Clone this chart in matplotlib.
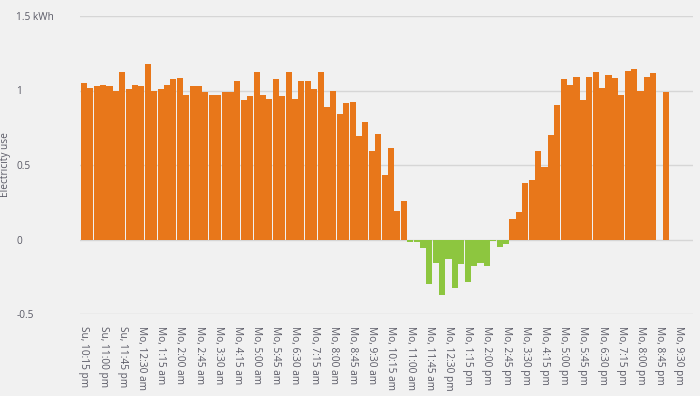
import numpy as np
import matplotlib
matplotlib.use('agg')
import matplotlib.pyplot as plt

# 15-minute electricity use (kWh), Su 10:15 pm .. Mo 9:00 pm
usage = [1.053, 1.02, 1.027, 1.04, 1.033, 1.0, 1.127, 1.007, 1.04, 1.033,
         1.18, 1.0, 1.013, 1.04, 1.08, 1.087, 0.973, 1.027, 1.027, 0.987,
         0.973, 0.973, 0.993, 0.987, 1.067, 0.933, 0.96,
         1.127, 0.967, 0.94, 1.08, 0.96, 1.127, 0.94, 1.067, 1.067,
         1.007, 1.127, 0.887, 1.0, 0.84, 0.913, 0.92, 0.693, 0.787, 0.593,
         0.707, 0.433, 0.613, 0.193, 0.26,
         -0.02, -0.02, -0.06, -0.30, -0.16, -0.373, -0.133, -0.327, -0.167,
         -0.287, -0.18, -0.16, -0.18, -0.007, -0.053, -0.033,
         0.14, 0.187, 0.38, 0.40, 0.593, 0.487, 0.70, 0.90, 1.08,
         1.04, 1.093, 0.933, 1.093, 1.127, 1.02, 1.107, 1.087, 0.967, 1.133,
         1.147, 1.0, 1.093, 1.12, np.nan, 0.987]

tick_labels = ['Su, 10:15 pm', 'Su, 11:00 pm', 'Su, 11:45 pm', 'Mo, 12:30 am',
               'Mo, 1:15 am', 'Mo, 2:00 am', 'Mo, 2:45 am', 'Mo, 3:30 am',
               'Mo, 4:15 am', 'Mo, 5:00 am', 'Mo, 5:45 am', 'Mo, 6:30 am',
               'Mo, 7:15 am', 'Mo, 8:00 am', 'Mo, 8:45 am', 'Mo, 9:30 am',
               'Mo, 10:15 am', 'Mo, 11:00 am', 'Mo, 11:45 am', 'Mo, 12:30 pm',
               'Mo, 1:15 pm', 'Mo, 2:00 pm', 'Mo, 2:45 pm', 'Mo, 3:30 pm',
               'Mo, 4:15 pm', 'Mo, 5:00 pm', 'Mo, 5:45 pm', 'Mo, 6:30 pm',
               'Mo, 7:15 pm', 'Mo, 8:00 pm', 'Mo, 8:45 pm', 'Mo, 9:30 pm']

y_ticks = [-0.5, 0, 0.5, 1, 1.5]
y_tick_labels = ['-0.5', '0', '0.5', '1', '1.5 kWh']

plt.rcParams['font.family'] = ['Open Sans', 'DejaVu Sans']
bg = '#f1f1f1'
text_col = '#5a5a66'

fig = plt.figure(figsize=(7, 3.96), dpi=100, facecolor=bg)
ax = fig.add_axes([80/700, 1-314/396, 613/700, 298/396], facecolor=bg)

vals = np.array(usage, dtype=float)
x = np.arange(len(vals))
colors = ['#e8771a' if v >= 0 else '#8dc63f' for v in np.nan_to_num(vals)]
ax.bar(x, vals, width=0.96, color=colors, zorder=2)

ax.set_xlim(-0.6, 95.2)
ax.set_ylim(-0.5, 1.5)
ax.set_xticks(np.arange(0, 3*len(tick_labels), 3))
ax.set_xticklabels(tick_labels, rotation=270, ha='center', va='top',
                   fontsize=7.3, color=text_col)
ax.set_yticks(y_ticks)
ax.set_yticklabels(y_tick_labels, ha='left', fontsize=7.3, color=text_col)
ax.tick_params(axis='x', length=0, pad=9)
ax.tick_params(axis='y', length=0, pad=46)
ax.grid(axis='y', color='#d6d6d6', linewidth=1, zorder=0)
for s in ax.spines.values():
    s.set_visible(False)

fig.text(6/700, 1-165/396, 'Electricity use', rotation=90, ha='center',
         va='center', fontsize=7.3, color=text_col)

fig.savefig('out.png', dpi=100, facecolor=bg)
